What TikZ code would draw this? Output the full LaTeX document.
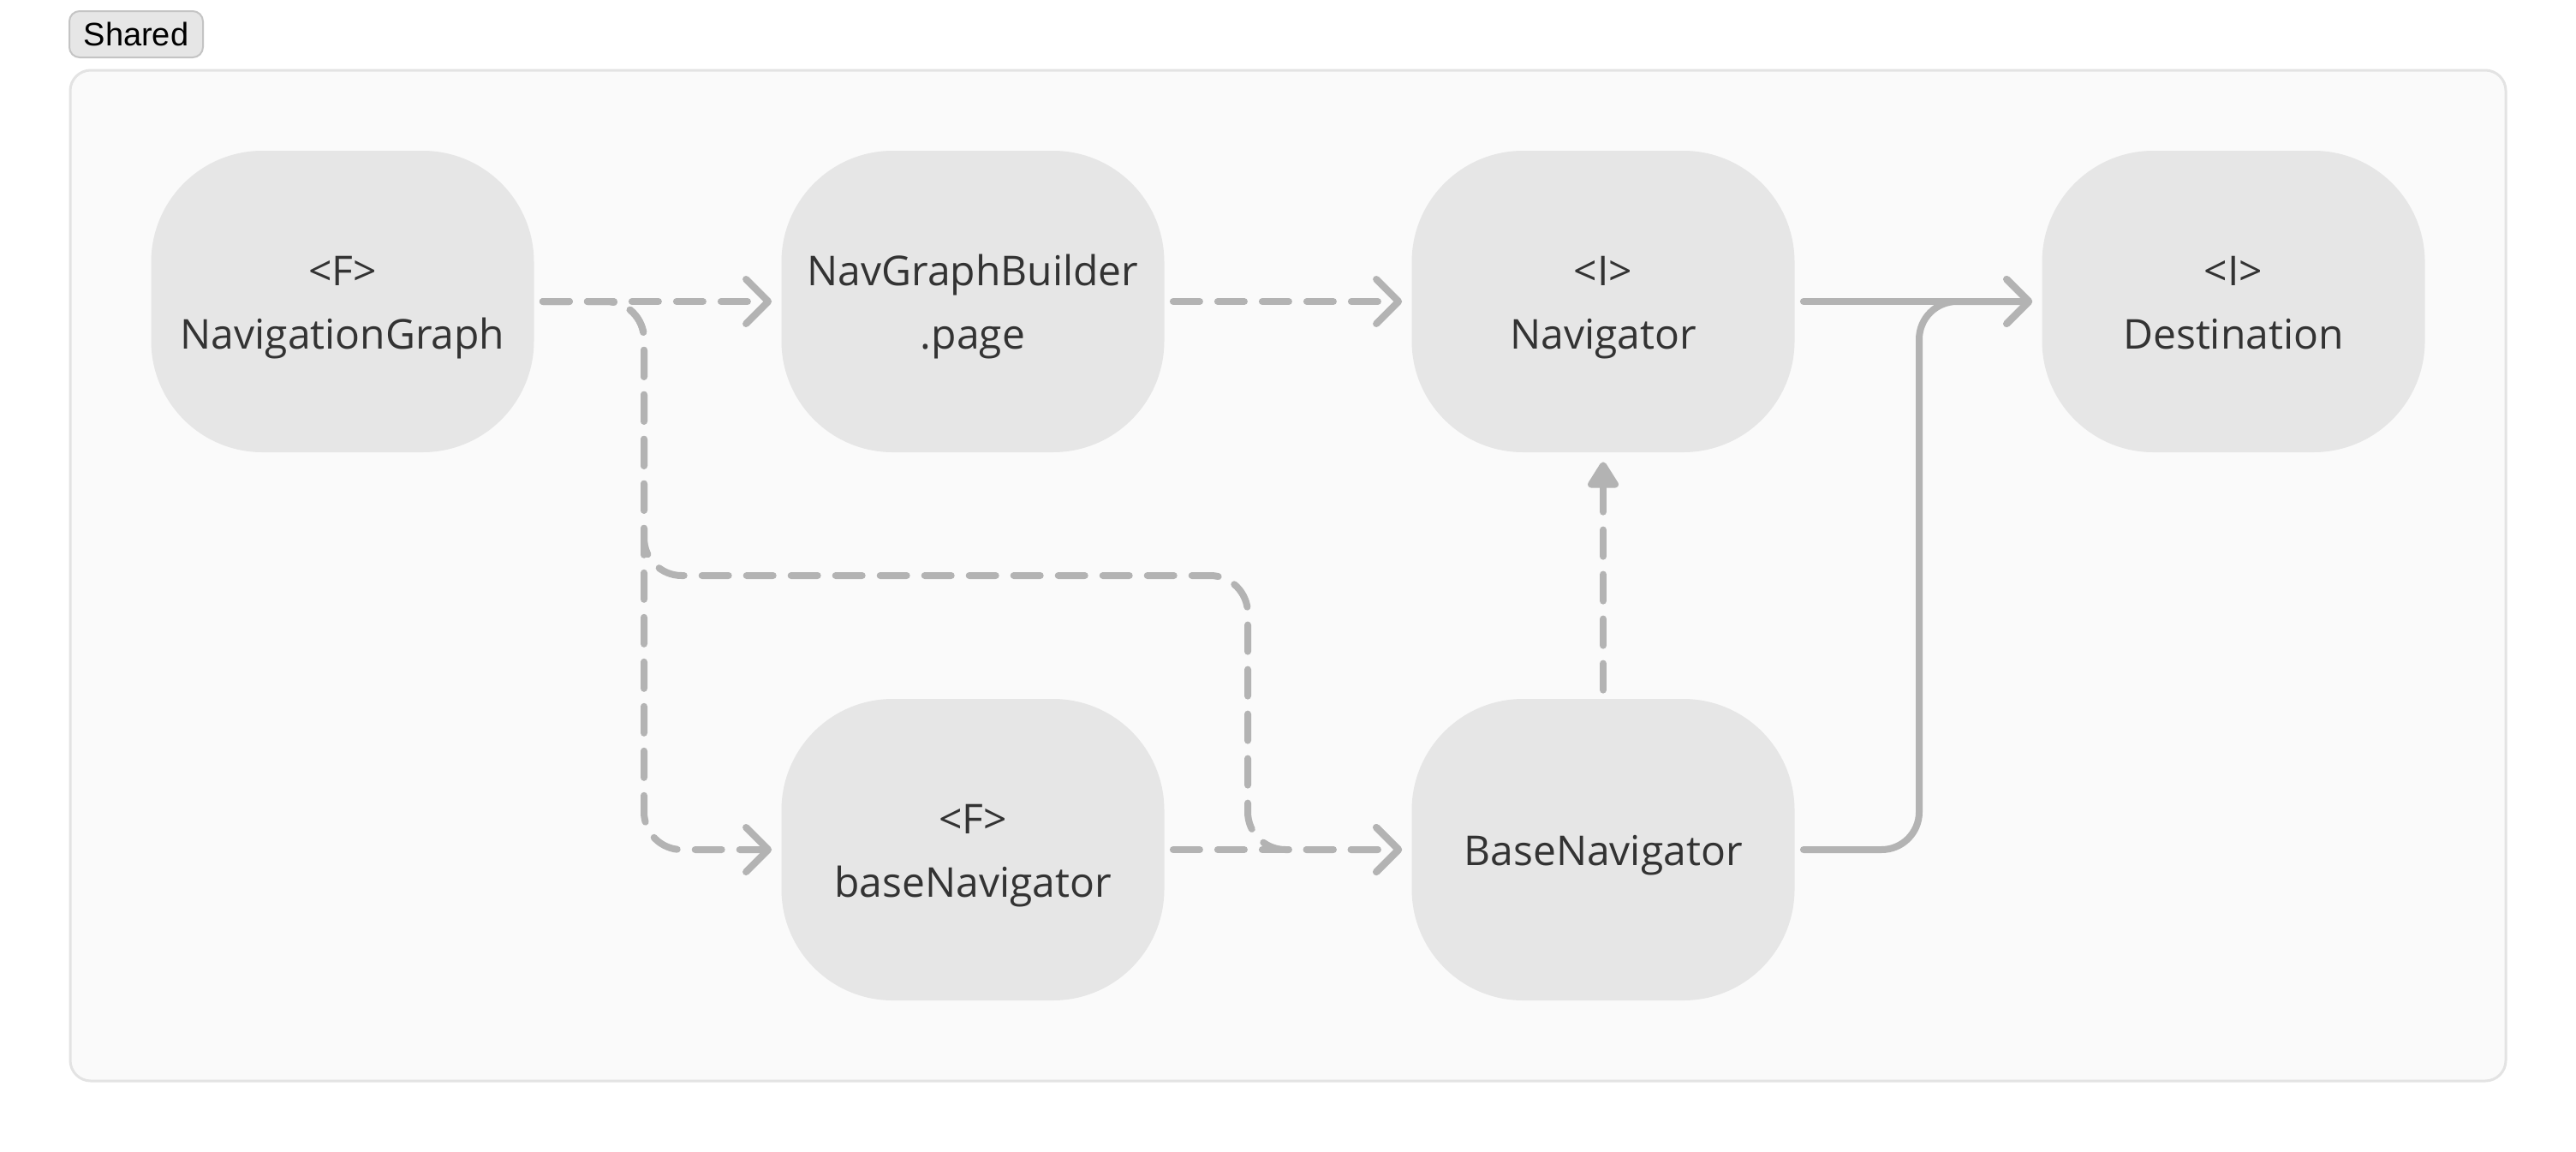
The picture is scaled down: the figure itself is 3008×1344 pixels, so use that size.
\documentclass[tikz,border=0pt]{standalone}
\usepackage{fontspec}
\newfontfamily\nodefont{Open Sans}
\newfontfamily\labelfont{Liberation Sans}
\usetikzlibrary{arrows.meta}
\definecolor{nodefill}{HTML}{E6E6E6}
\definecolor{txt}{HTML}{333333}
\definecolor{edgecol}{HTML}{B3B3B3}
\definecolor{boxfill}{HTML}{FAFAFA}
\definecolor{boxline}{HTML}{E3E3E3}
\definecolor{tagline}{HTML}{C4C4C4}
\newcommand\nstrut{\vrule width 0pt height 27.5pt depth 9.5pt}
\newcommand\twol[2]{\nstrut#1\\\nstrut#2}
\tikzset{
  comp/.style={rectangle, rounded corners=65pt, fill=nodefill, draw=none,
    minimum width=223.5pt, minimum height=176pt, inner sep=0pt,
    align=center, text=txt, font=\nodefont\fontsize{24}{37}\selectfont},
  conn/.style={draw=edgecol, line width=4pt, line cap=round, line join=round,
    rounded corners=22pt, shorten <=5pt, shorten >=5.5pt},
  dep/.style={conn, dash pattern=on 15.5pt off 10.5pt},
  barb/.style={-{Straight Barb[length=13pt,width=26pt,line cap=round,line join=round]}},
  tri/.style={-{Triangle[length=17pt,width=20pt,round]}},
}
\begin{document}
\begin{tikzpicture}[x=0.5pt,y=-0.5pt]
\useasboundingbox (0,0) rectangle (3008,1344);
\fill[white] (0,0) rectangle (3008,1344);
% container
\draw[fill=boxfill, draw=boxline, line width=1.5pt, rounded corners=12pt] (82,82) rectangle (2926,1262);
% tag
\node[name=tag, rectangle, rounded corners=6pt, fill=nodefill, draw=tagline, line width=1pt,
  minimum width=78pt, minimum height=27pt, inner sep=0pt,
  font=\labelfont\fontsize{19}{22}\selectfont, text=black] at (159,40) {Shared};
% nodes
\node[comp] (NG)  at (400,352)  {\twol{<F>}{NavigationGraph}};
\node[comp] (NGB) at (1136,352) {\twol{NavGraphBuilder}{.page}};
\node[comp] (Nav) at (1872,352) {\twol{<I>}{Navigator}};
\node[comp] (Dst) at (2608,352) {\twol{<I>}{Destination}};
\node[comp] (bN)  at (1136,992) {\twol{<F>}{baseNavigator}};
\node[comp] (BN)  at (1872,992) {\nstrut BaseNavigator};
% helper coordinates
\coordinate (c1) at (752,352);
\coordinate (c2) at (752,992);
\coordinate (c3) at (752,672);
\coordinate (c4) at (1457,672);
\coordinate (c5) at (1457,992);
\coordinate (c6) at (2241,992);
\coordinate (c7) at (2241,352);
% edges
\draw[dep,barb] (NG.east) -- (NGB.west);
\draw[dep,barb] (NG.east) -- (c1) -- (c2) -- (bN.west);
\draw[dep,barb] (NG.east) -- (c1) -- (c3) -- (c4) -- (c5) -- (BN.west);
\draw[dep,barb] (bN.east) -- (BN.west);
\draw[dep,barb] (NGB.east) -- (Nav.west);
\draw[dep,tri] (BN.north) -- (Nav.south);
\draw[conn,barb] (Nav.east) -- (Dst.west);
\draw[conn,barb] (BN.east) -- (c6) -- (c7) -- (Dst.west);
\end{tikzpicture}
\end{document}
